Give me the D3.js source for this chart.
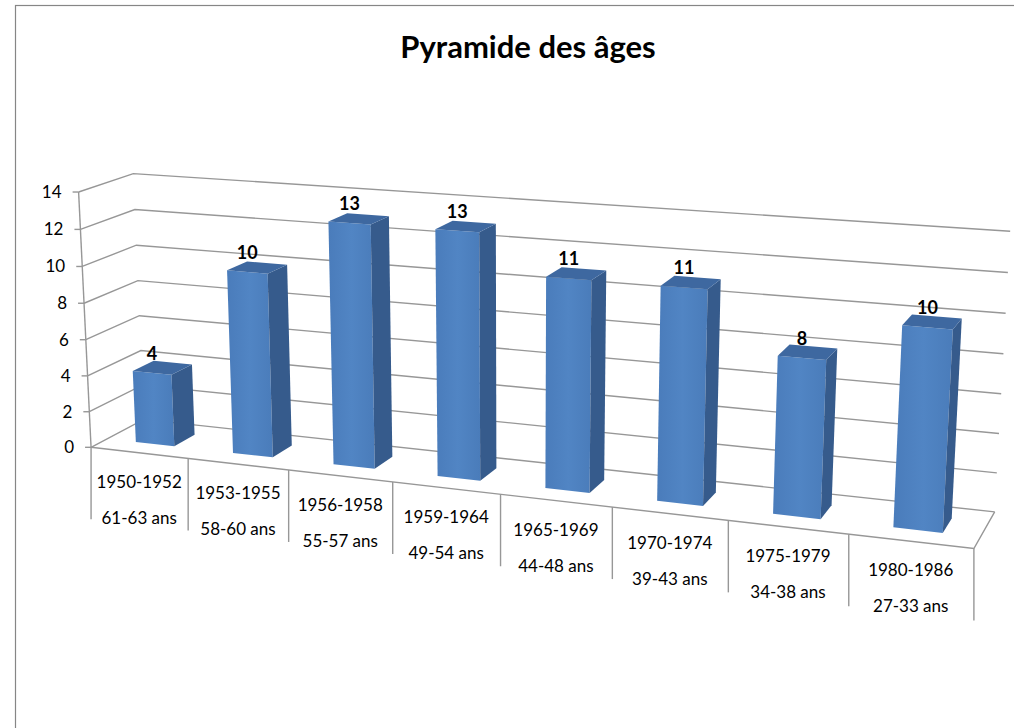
<!DOCTYPE html>
<html>
<head>
<meta charset="utf-8">
<script src="https://cdn.jsdelivr.net/npm/d3@7"></script>
<style>
  html, body { margin: 0; padding: 0; background: #fff; }
  svg { display: block; }
</style>
</head>
<body>
<script>
// ---- data ----
const periods = ["1950-1952", "1953-1955", "1956-1958", "1959-1964", "1965-1969", "1970-1974", "1975-1979", "1980-1986"];
const ages    = ["61-63 ans", "58-60 ans", "55-57 ans", "49-54 ans", "44-48 ans", "39-43 ans", "34-38 ans", "27-33 ans"];
const counts  = [4, 10, 13, 13, 11, 11, 8, 10];
const yTicks  = [0, 2, 4, 6, 8, 10, 12, 14];
const title   = "Pyramide des âges";

const W = 1014, H = 728;
const FONT = "Lato, 'Open Sans', sans-serif";
const svg = d3.select("body").append("svg").attr("width", W).attr("height", H);

// ---- 3D box scales (unit cube: x = categories, y = value, z = depth) ----
const x = d3.scaleBand().domain(periods).range([0, 1]).paddingInner(0.6).paddingOuter(0.3);
const y = d3.scaleLinear().domain([0, 14]).range([0, 1]);
const barZ = [0.3, 0.7];

// Screen placement of the plot box: corners of the unit cube and the
// category boundaries along the front floor edge.
const boxAnchors = [
  [0, 0, 0, 92, 447], [0, 1, 0, 77, 192], [0, 0, 1, 142, 421], [0, 1, 1, 135, 173],
  [1, 1, 1, 1010, 232], [1, 0, 1, 995, 510], [1, 0, 0, 974, 549]
];
const frontEdgeX = [92, 188, 289, 393, 500, 612, 728, 849, 974];
frontEdgeX.forEach((sx, i) => {
  boxAnchors.push([i / 8, 0, 0, sx, 447 + (sx - 92) * (102 / 882)]);
});

// Perspective camera fitted by direct linear transform (least squares).
function fitCamera(pts) {
  const rows = [], rhs = [];
  pts.forEach(([X, Y, Z, u, v]) => {
    rows.push([X, Y, Z, 1, 0, 0, 0, 0, -u * X, -u * Y, -u * Z]); rhs.push(u);
    rows.push([0, 0, 0, 0, X, Y, Z, 1, -v * X, -v * Y, -v * Z]); rhs.push(v);
  });
  const n = 11;
  const M = Array.from({ length: n }, () => new Array(n + 1).fill(0));
  rows.forEach((r, k) => {
    for (let i = 0; i < n; i++) {
      for (let j = 0; j < n; j++) M[i][j] += r[i] * r[j];
      M[i][n] += r[i] * rhs[k];
    }
  });
  for (let c = 0; c < n; c++) {
    let p = c;
    for (let r = c + 1; r < n; r++) if (Math.abs(M[r][c]) > Math.abs(M[p][c])) p = r;
    [M[c], M[p]] = [M[p], M[c]];
    for (let r = 0; r < n; r++) {
      if (r === c) continue;
      const f = M[r][c] / M[c][c];
      for (let k = c; k <= n; k++) M[r][k] -= f * M[c][k];
    }
  }
  return M.map((row, i) => row[n] / row[i]);
}
const cam = fitCamera(boxAnchors);
function project(X, Y, Z) {
  const w = cam[8] * X + cam[9] * Y + cam[10] * Z + 1;
  return [
    (cam[0] * X + cam[1] * Y + cam[2] * Z + cam[3]) / w,
    (cam[4] * X + cam[5] * Y + cam[6] * Z + cam[7]) / w
  ];
}
const line = d3.line();

// ---- chart frame ----
svg.append("rect")
  .attr("x", 15.5).attr("y", 5.5).attr("width", W + 20).attr("height", H + 20)
  .attr("fill", "#fff").attr("stroke", "#868686").attr("stroke-width", 1.2);

svg.append("text")
  .attr("x", 528).attr("y", 58)
  .attr("text-anchor", "middle")
  .attr("font-family", FONT)
  .attr("font-weight", 700).attr("font-size", 31)
  .attr("fill", "#000")
  .text(title);

// ---- walls, floor and gridlines ----
const grid = svg.append("g").attr("fill", "none").attr("stroke", "#979797").attr("stroke-width", 1.4);
yTicks.forEach(t => {
  const yy = y(t);
  grid.append("path").attr("d", line([project(0, yy, 0), project(0, yy, 1), project(1, yy, 1)]));
});
grid.append("path").attr("d", line([project(0, 0, 0), project(1, 0, 0), project(1, 0, 1)]));
grid.append("path").attr("d", line([project(0, 0, 0), project(0, 1, 0)]));

// value axis ticks and labels
const yAxis = svg.append("g");
yTicks.forEach(t => {
  const [px, py] = project(0, y(t), 0);
  yAxis.append("path").attr("d", line([[px - 6, py], [px, py]]))
    .attr("stroke", "#979797").attr("stroke-width", 1.4);
  yAxis.append("text")
    .attr("x", px - 17).attr("y", py).attr("dy", "0.35em")
    .attr("text-anchor", "end")
    .attr("font-family", FONT).attr("font-size", 17)
    .attr("fill", "#000").text(t);
});

// category axis: boundary ticks hanging below the floor edge, two-row labels
const xAxis = svg.append("g");
const step = x.step();
d3.range(periods.length + 1).forEach(i => {
  const [px, py] = project(i * step, 0, 0);
  xAxis.append("path").attr("d", line([[px, py], [px, py + 72]]))
    .attr("stroke", "#979797").attr("stroke-width", 1.4);
});
periods.forEach((p, i) => {
  const [px, py] = project(i * step + step / 2, 0, 0);
  const lab = xAxis.append("text")
    .attr("text-anchor", "middle")
    .attr("font-family", FONT).attr("font-size", 17)
    .attr("fill", "#000");
  lab.append("tspan").attr("x", px).attr("y", py + 29).attr("dy", "0.35em").text(p);
  lab.append("tspan").attr("x", px).attr("y", py + 65).attr("dy", "0.35em").text(ages[i]);
});

// ---- columns ----
const defs = svg.append("defs");
const gFront = defs.append("linearGradient").attr("id", "front").attr("x1", 0).attr("x2", 1).attr("y1", 0).attr("y2", 0);
gFront.append("stop").attr("offset", 0).attr("stop-color", "#4a7cbb");
gFront.append("stop").attr("offset", 0.5).attr("stop-color", "#5185c4");
gFront.append("stop").attr("offset", 1).attr("stop-color", "#4a7cba");

const bars = svg.append("g");
periods.forEach((p, i) => {
  const x0 = x(p), x1 = x(p) + x.bandwidth();
  const v = y(counts[i]);
  const [z0, z1] = barZ;
  const g = bars.append("g");
  g.append("path").attr("fill", "url(#front)")
    .attr("d", line([project(x0, 0, z0), project(x1, 0, z0), project(x1, v, z0), project(x0, v, z0)]) + "Z");
  g.append("path").attr("fill", "#365b8c")
    .attr("d", line([project(x1, 0, z0), project(x1, 0, z1), project(x1, v, z1), project(x1, v, z0)]) + "Z");
  g.append("path").attr("fill", "#3e68a0")
    .attr("d", line([project(x0, v, z0), project(x1, v, z0), project(x1, v, z1), project(x0, v, z1)]) + "Z");
  const [lx, ly] = project((x0 + x1) / 2, v, z0);
  g.append("text")
    .attr("x", lx).attr("y", ly - 13)
    .attr("text-anchor", "middle")
    .attr("font-family", FONT)
    .attr("font-weight", 700).attr("font-size", 18)
    .attr("fill", "#000").text(counts[i]);
});
</script>
</body>
</html>
